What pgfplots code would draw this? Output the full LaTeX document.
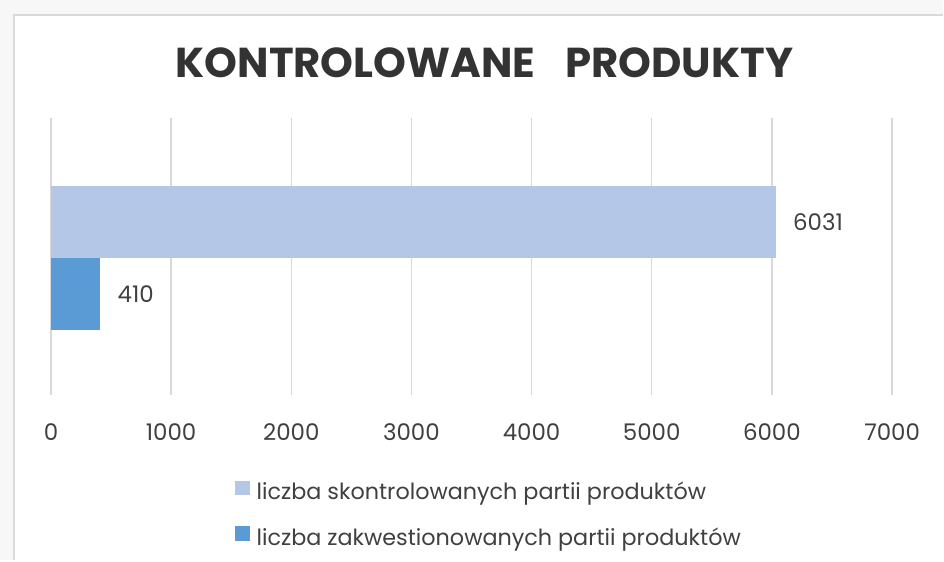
\documentclass[border=0pt]{standalone}
\usepackage{fontspec}
\setmainfont{Poppins}
\usepackage{pgfplots}
\pgfplotsset{compat=1.18}
\definecolor{lblue}{HTML}{B4C7E7}
\definecolor{dblue}{HTML}{5B9BD5}
\definecolor{txt}{HTML}{404040}
\definecolor{titlec}{HTML}{333333}
\definecolor{gridc}{HTML}{D9D9D9}
\definecolor{outer}{HTML}{F7F7F7}
\pgfplotsset{mylegend/.style={legend image code/.code={\path[##1, draw=none] (0bp,-1bp) rectangle (15bp,14bp);}}}
\begin{document}
\begin{tikzpicture}
\fill[outer] (0bp,0bp) rectangle (944bp,561bp);
\fill[white] (14bp,0bp) rectangle (944bp,546bp);
\draw[gridc, line width=2bp] (14bp,0bp) -- (14bp,546bp) -- (944bp,546bp);
\node[anchor=base, font=\bfseries\fontsize{42}{50}\selectfont, text=titlec, inner sep=0pt] at (485bp,483bp) {KONTROLOWANE\hspace{30bp}PRODUKTY};
\begin{axis}[at={(51bp,166bp)}, anchor=south west, scale only axis,
  width=842bp, height=277bp,
  xmin=0, xmax=7000, ymin=-137, ymax=140,
  xtick={0,1000,...,7000}, ytick=\empty,
  axis line style={draw=none}, major tick length=0pt,
  xmajorgrids, grid style={gridc, line width=1.5bp},
  /pgf/number format/assume math mode=true,
  /pgf/number format/set thousands separator={},
  xticklabel style={font=\fontsize{23}{28}\selectfont, text=txt, anchor=center, yshift=-38bp},
  xbar, bar width=72bp,
  nodes near coords,
  nodes near coords style={font=\fontsize{23}{28}\selectfont, text=txt, anchor=west, xshift=14bp},
  legend cell align=left,
  legend style={at={(0.2185,-0.3105)}, anchor=north west, draw=none, fill=none,
    inner sep=0pt, outer sep=0pt, font=\fontsize{22.4}{27}\selectfont, text=txt, row sep=21bp,
    nodes={inner sep=0pt, text height=16bp, text depth=5bp},
    /tikz/every odd column/.style={column sep=7bp}},
]
\addplot[fill=lblue, draw=none, bar shift=36bp, mylegend] coordinates {(6031,0)};
\addplot[fill=dblue, draw=none, bar shift=-36bp, mylegend] coordinates {(410,0)};
\legend{liczba skontrolowanych partii produktów, liczba zakwestionowanych partii produktów}
\end{axis}
\end{tikzpicture}
\end{document}
